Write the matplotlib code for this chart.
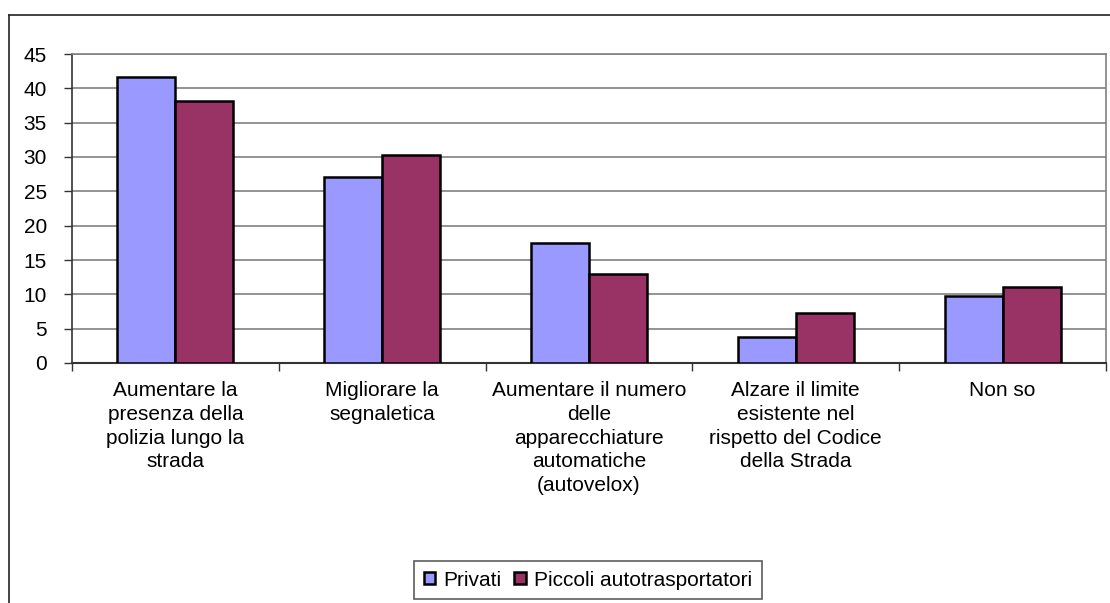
import matplotlib
matplotlib.use("Agg")
import matplotlib.pyplot as plt
from matplotlib.lines import Line2D

plt.rcParams['font.family'] = ['Liberation Sans', 'DejaVu Sans']

categories = [
    "Aumentare la\npresenza della\npolizia lungo la\nstrada",
    "Migliorare la\nsegnaletica",
    "Aumentare il numero\ndelle\napparecchiature\nautomatiche\n(autovelox)",
    "Alzare il limite\nesistente nel\nrispetto del Codice\ndella Strada",
    "Non so",
]
series_names = ["Privati", "Piccoli autotrasportatori"]
privati = [41.7, 27.1, 17.5, 3.8, 9.7]
piccoli = [38.2, 30.3, 12.9, 7.3, 11.1]
yticks = [0, 5, 10, 15, 20, 25, 30, 35, 40, 45]
colors = ["#9999FF", "#993366"]

W, H = 1110, 603
fig = plt.figure(figsize=(W / 100, H / 100), dpi=100)
left, right, top, bottom = 72, 1106, 54, 363
ax = fig.add_axes([left / W, 1 - bottom / H, (right - left) / W, (bottom - top) / H])

n = len(categories)
bw = 0.28
xs = [i + 0.5 for i in range(n)]
ax.bar([x - bw / 2 for x in xs], privati, width=bw, color=colors[0],
       edgecolor="black", linewidth=1.8, label=series_names[0], zorder=3)
ax.bar([x + bw / 2 for x in xs], piccoli, width=bw, color=colors[1],
       edgecolor="black", linewidth=1.8, label=series_names[1], zorder=3)

ax.set_xlim(0, n)
ax.set_ylim(0, 45)
ax.set_yticks(yticks)
ax.set_yticklabels([str(v) for v in yticks], fontsize=15)
ax.yaxis.grid(True, color="#808080", linewidth=1.2, zorder=0)
ax.set_axisbelow(True)

ax.set_xticks(xs)
ax.set_xticklabels(categories, fontsize=15, linespacing=1.32)
ax.tick_params(axis="x", which="major", length=0, pad=13)
ax.set_xticks(list(range(n + 1)), minor=True)
ax.tick_params(axis="x", which="minor", length=6, width=1, color="#333333")
ax.tick_params(axis="y", length=6, width=1, color="#333333", pad=12)

ax.spines["left"].set_color("#333333")
ax.spines["bottom"].set_color("#333333")
ax.spines["left"].set_linewidth(1.2)
ax.spines["bottom"].set_linewidth(1.5)
ax.spines["top"].set_color("#808080")
ax.spines["right"].set_color("#808080")
ax.spines["right"].set_linewidth(1.2)
ax.spines["top"].set_linewidth(1.2)

# outer chart frame
fig.add_artist(Line2D([9 / W, 1.0], [1 - 15 / H, 1 - 15 / H], color="#222222", linewidth=1.2,
                      transform=fig.transFigure))
fig.add_artist(Line2D([9 / W, 9 / W], [1 - 15 / H, 0.0], color="#222222", linewidth=1.2,
                      transform=fig.transFigure))

leg = fig.legend(loc="center", bbox_to_anchor=(588 / W, 1 - 580 / H), ncol=2,
                 fontsize=15, frameon=True, fancybox=False, edgecolor="#333333",
                 handlelength=0.55, handleheight=0.55, handletextpad=0.4,
                 columnspacing=0.6, borderpad=0.45)
leg.get_frame().set_linewidth(1.2)

fig.savefig("out.png", dpi=100)
